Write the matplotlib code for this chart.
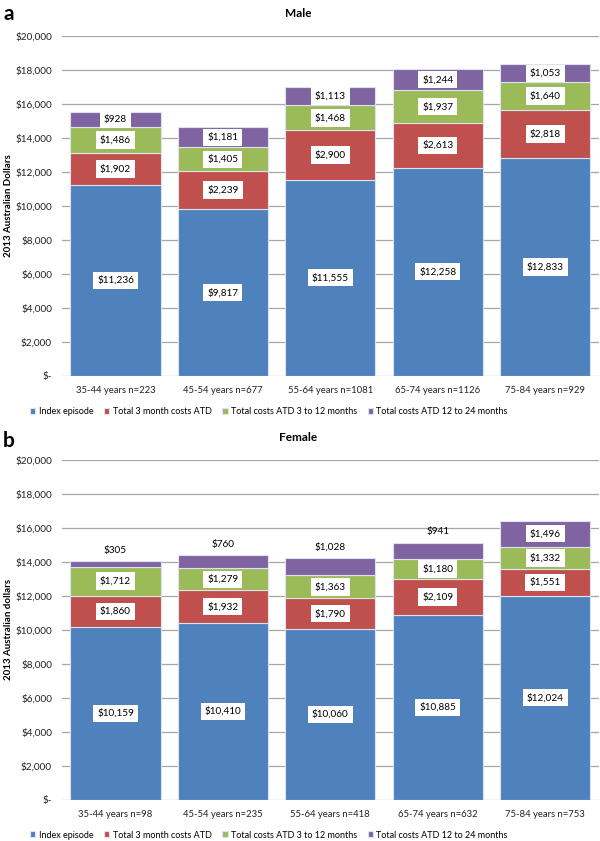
import matplotlib.pyplot as plt
import numpy as np

# Data
male_groups = ['35-44 years n=223', '45-54 years n=677', '55-64 years n=1081',
               '65-74 years n=1126', '75-84 years n=929']
male_index = [11236, 9817, 11555, 12258, 12833]
male_3m = [1902, 2239, 2900, 2613, 2818]
male_3to12 = [1486, 1405, 1468, 1937, 1640]
male_12to24 = [928, 1181, 1113, 1244, 1053]

female_groups = ['35-44 years n=98', '45-54 years n=235', '55-64 years n=418',
                 '65-74 years n=632', '75-84 years n=753']
female_index = [10159, 10410, 10060, 10885, 12024]
female_3m = [1860, 1932, 1790, 2109, 1551]
female_3to12 = [1712, 1279, 1363, 1180, 1332]
female_12to24 = [305, 760, 1028, 941, 1496]

series_names = ['Index episode', 'Total 3 month costs ATD',
                'Total costs ATD 3 to 12 months', 'Total costs ATD 12 to 24 months']
colors = ['#4F81BD', '#C0504D', '#9BBB59', '#8064A2']

plt.rcParams['font.family'] = ['Lato', 'DejaVu Sans']


def money(v):
    return '${:,.0f}'.format(v)


def draw_panel(ax, groups, series, title, above_top):
    x = np.arange(len(groups))
    bottom = np.zeros(len(groups))
    for i, (vals, col) in enumerate(zip(series, colors)):
        vals = np.array(vals, dtype=float)
        ax.bar(x, vals, 0.84, bottom=bottom, color=col, edgecolor='#DCE3F0',
               linewidth=0.8, label=series_names[i], zorder=3)
        for j in range(len(groups)):
            last = i == len(series) - 1
            if last and above_top[j]:
                # small top segments: label sits above the bar, no box
                ax.annotate(money(vals[j]), (x[j], bottom[j] + vals[j]),
                            xytext=(0, 8), textcoords='offset points',
                            ha='center', va='center', fontsize=7.2, zorder=5)
            else:
                ax.text(x[j], bottom[j] + vals[j] / 2, money(vals[j]),
                        ha='center', va='center', fontsize=7.2, zorder=5,
                        bbox=dict(facecolor='white', edgecolor='none',
                                  boxstyle='square,pad=0.4'))
        bottom += vals

    ax.set_xlim(-0.5, len(groups) - 0.5)
    ax.set_ylim(0, 20000)
    ax.set_yticks(np.arange(0, 20001, 2000))
    ax.set_yticklabels(['$-'] + [money(v) for v in range(2000, 20001, 2000)],
                       fontsize=7.2, color='#222222')
    ax.set_xticks(x)
    ax.set_xticklabels(groups, fontsize=6.8, color='#222222')
    ax.tick_params(axis='both', length=0, pad=7)
    ax.grid(axis='y', color='#A6A6A6', linewidth=0.9, zorder=0)
    for s in ax.spines.values():
        s.set_visible(False)
    ax.set_title(title, fontsize=8.5, fontweight='bold', x=0.44, pad=14)


fig = plt.figure(figsize=(6, 8.41), dpi=100)

ax1 = fig.add_axes([0.103, 0.553, 0.895, 0.404])
draw_panel(ax1, male_groups, [male_index, male_3m, male_3to12, male_12to24],
           'Male', [False] * 5)

ax2 = fig.add_axes([0.103, 0.049, 0.895, 0.404])
draw_panel(ax2, female_groups, [female_index, female_3m, female_3to12, female_12to24],
           'Female', [True, True, True, True, False])

fig.text(0.014, 0.553 + 0.404 / 2, '2013 Australian Dollars', rotation=90,
         fontsize=7, fontweight='bold', ha='center', va='center')
fig.text(0.014, 0.049 + 0.404 / 2, '2013 Australian dollars', rotation=90,
         fontsize=7, fontweight='bold', ha='center', va='center')

# legends under each panel
for ax, ypos in [(ax1, 1 - 412 / 841), (ax2, 1 - 835 / 841)]:
    handles, labels = ax.get_legend_handles_labels()
    fig.legend(handles, labels, loc='center left', bbox_to_anchor=(0.05, ypos),
               ncol=4, frameon=False, fontsize=6.5, handlelength=0.6,
               handleheight=0.6, handletextpad=0.35, columnspacing=1.2,
               borderpad=0, borderaxespad=0)

fig.text(0.005, 1 - 14 / 841, 'a', fontsize=15, fontweight='bold', va='center')
fig.text(0.005, 1 - 441 / 841, 'b', fontsize=15, fontweight='bold', va='center')

plt.savefig('out.png', dpi=100)
plt.close()
